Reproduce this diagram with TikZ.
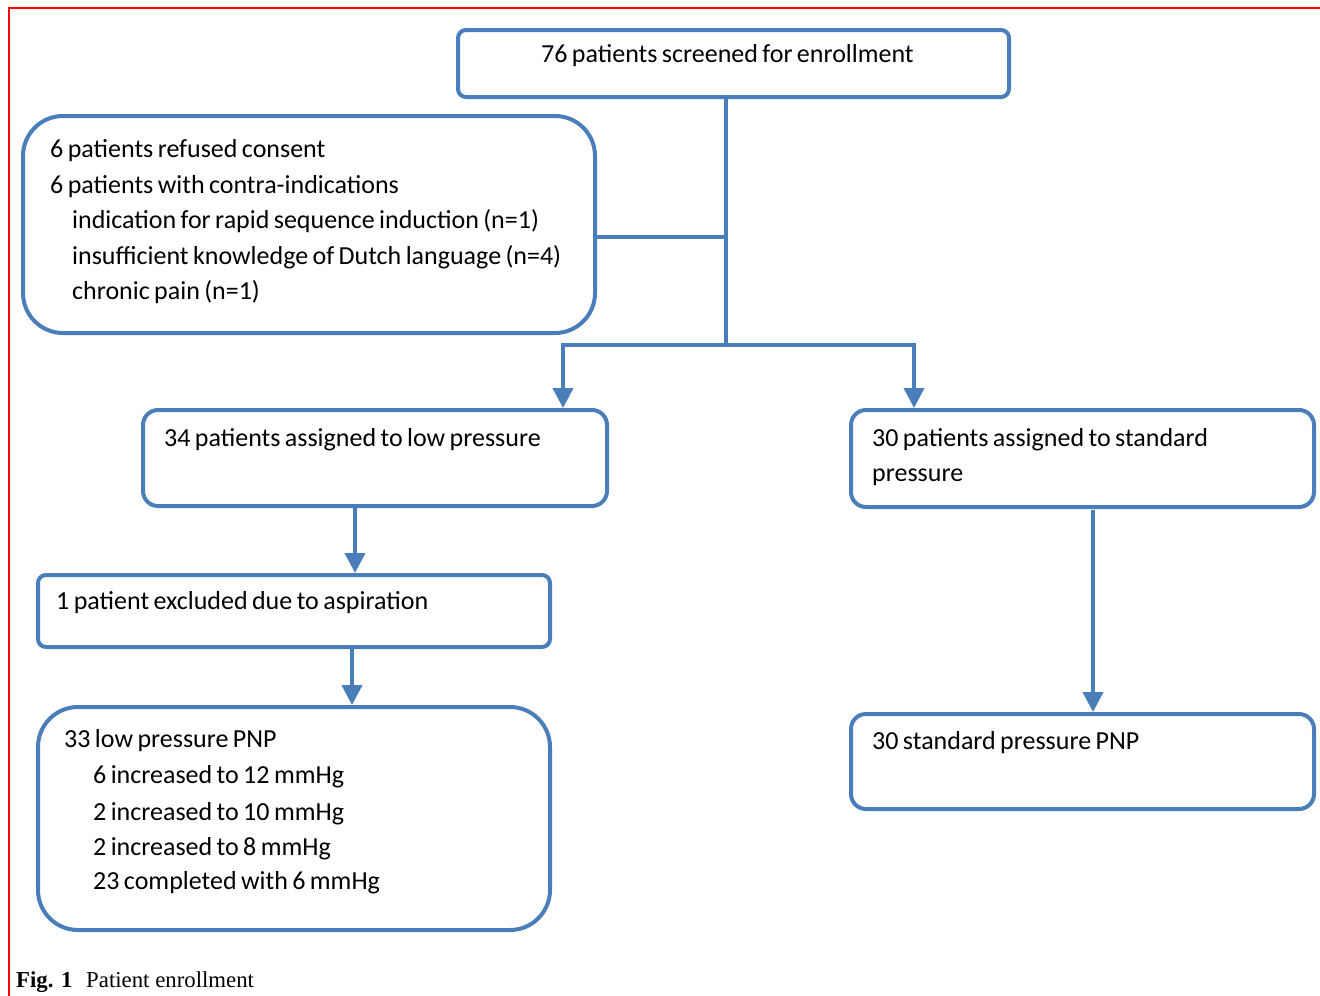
\documentclass[tikz,border=0pt]{standalone}
\usepackage{fontspec}
\setmainfont[WordSpace=0.75]{Carlito}
\newfontfamily\capfont{Liberation Serif}
\usetikzlibrary{arrows.meta}
\definecolor{boxblue}{RGB}{74,126,187}
\begin{document}
\begin{tikzpicture}[x=1pt,y=-1pt,
 box/.style={draw=boxblue, line width=4pt, inner sep=0pt, anchor=north west},
 txt/.style={anchor=base west, inner sep=0pt, font=\fontsize{26}{30}\selectfont},
 conn/.style={draw=boxblue, line width=4pt},
 arr/.style={conn, -{Triangle[length=20pt,width=20pt]}}]
\path[use as bounding box] (0,0) rectangle (1320,996);
\draw[red, line width=2pt] (9,996) -- (9,8) -- (1320,8);

% boxes
\node[box, rounded corners=8pt, minimum width=551pt, minimum height=67pt] (screen) at (456,28) {};
\node[box, rounded corners=40pt, minimum width=572pt, minimum height=217pt] (excl) at (21,114) {};
\node[box, rounded corners=15pt, minimum width=464pt, minimum height=96pt] (low) at (141,408) {};
\node[box, rounded corners=15pt, minimum width=463pt, minimum height=97pt] (std) at (849,408) {};
\node[box, rounded corners=8pt, minimum width=512pt, minimum height=72pt] (asp) at (36,573) {};
\node[box, rounded corners=40pt, minimum width=512pt, minimum height=223pt] (lowpnp) at (36,705) {};
\node[box, rounded corners=15pt, minimum width=463pt, minimum height=95pt] (stdpnp) at (849,712) {};

% texts
\node[txt] (t0) at (541,62) {76 patients screened for enrollment};
\node[txt] (t1) at (50,157) {6 patients refused consent};
\node[txt] (t2) at (50,193) {6 patients with contra-indications};
\node[txt] (t3) at (72,228) {indication for rapid sequence induction (n=1)};
\node[txt] (t4) at (72,264) {insufficient knowledge of Dutch language (n=4)};
\node[txt] (t5) at (72,299) {chronic pain (n=1)};
\node[txt] (t6) at (164,446) {34 patients assigned to low pressure};
\node[txt] (t7) at (872,446) {30 patients assigned to standard};
\node[txt] (t8) at (872,481) {pressure};
\node[txt] (t9) at (56,609) {1 patient excluded due to aspiration};
\node[txt] (t10) at (64,747) {33 low pressure PNP};
\node[txt] (t11) at (93,783) {6 increased to 12 mmHg};
\node[txt] (t12) at (93,820) {2 increased to 10 mmHg};
\node[txt] (t13) at (93,855) {2 increased to 8 mmHg};
\node[txt] (t14) at (93,889) {23 completed with 6 mmHg};
\node[txt] (t15) at (872,749) {30 standard pressure PNP};
\node[anchor=base west, inner sep=0pt, font=\capfont\fontsize{22.8}{27}\selectfont] (cap) at (16,987) {\textbf{Fig. 1}\hspace{0.6em}Patient enrollment};

% connectors
\coordinate (j1) at (726,237);
\coordinate (j2) at (726,345);
\coordinate (jl) at (563,345);
\coordinate (jr) at (914,345);
\coordinate (a1) at (355,0);
\coordinate (a2) at (352,0);
\coordinate (a3) at (1093,510);
\draw[conn] (screen.south -| j1) -- (j2);
\draw[conn] (excl.east |- j1) -- (j1);
\draw[arr] (j2) -| (low.north -| jl);
\draw[arr] (j2) -| (std.north -| jr);
\draw[arr] (low.south -| a1) -- (asp.north -| a1);
\draw[arr] (asp.south -| a2) -- (lowpnp.north -| a2);
\draw[arr] (a3) -- (stdpnp.north -| a3);
\end{tikzpicture}
\end{document}
